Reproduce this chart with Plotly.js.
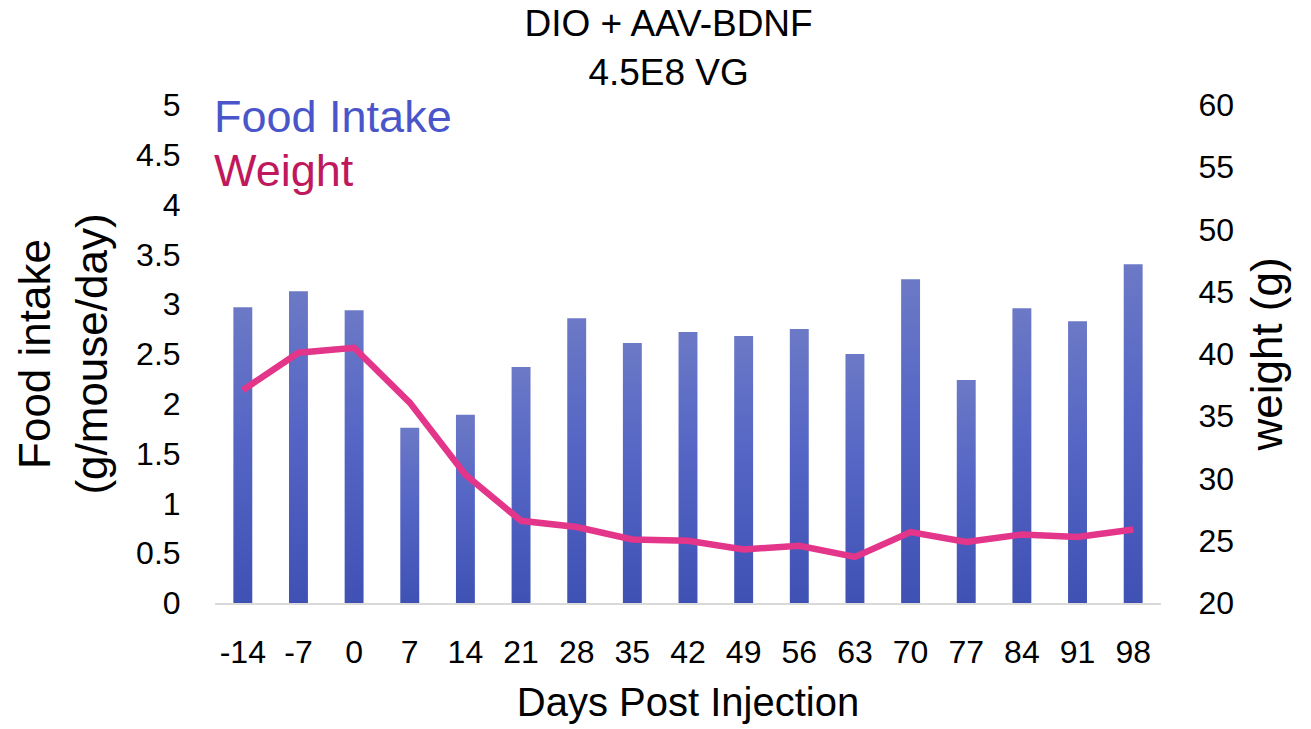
<!DOCTYPE html>
<html>
<head>
<meta charset="utf-8">
<script src="https://cdn.plot.ly/plotly-3.0.1.min.js"></script>
<style>html,body{margin:0;padding:0;background:#fff;}#chart{width:1311px;height:729px;}</style>
</head>
<body>
<div id="chart"></div>
<script>
const days = ["-14","-7","0","7","14","21","28","35","42","49","56","63","70","77","84","91","98"];
const foodIntake = [2.97,3.13,2.94,1.76,1.89,2.37,2.86,2.61,2.72,2.68,2.75,2.50,3.25,2.24,2.96,2.83,3.40];
const weight = [37.1,40.1,40.5,36.1,30.3,26.6,26.1,25.1,25.0,24.3,24.6,23.7,25.7,24.9,25.5,25.3,25.9];
const leftTicks = [0,0.5,1,1.5,2,2.5,3,3.5,4,4.5,5];
const rightTicks = [20,25,30,35,40,45,50,55,60];

const FONT = "Liberation Sans, Arial, sans-serif";

const traces = [
  {
    type: "bar", x: days, y: foodIntake, name: "Food Intake",
    marker: {color: "#5262c0"}, yaxis: "y", showlegend: false, hoverinfo: "x+y"
  },
  {
    type: "scatter", mode: "lines", x: days, y: weight, name: "Weight",
    line: {color: "#e3358a", width: 6.5}, yaxis: "y2", showlegend: false
  }
];

const layout = {
  width: 1311, height: 729,
  margin: {l: 215, r: 150, t: 105, b: 126},
  paper_bgcolor: "#ffffff", plot_bgcolor: "#ffffff",
  font: {family: FONT, color: "#000000", size: 32},
  bargap: 0.66,
  title: {
    text: "DIO + AAV-BDNF<br>4.5E8 VG",
    font: {family: FONT, size: 37, color: "#000000"},
    xref: "container", x: 0.51, xanchor: "center",
    yref: "container", y: 0.95, yanchor: "top"
  },
  xaxis: {
    type: "category",
    showgrid: false, zeroline: false,
    showline: true, linecolor: "#d9d9d9", linewidth: 2,
    ticks: "outside", ticklen: 0, ticklabelstandoff: 20,
    tickfont: {family: FONT, size: 32},
    automargin: true,
    title: {text: "Days Post Injection", font: {family: FONT, size: 40}, standoff: 19}
  },
  yaxis: {
    range: [0, 5], tickvals: leftTicks, ticktext: leftTicks.map(String),
    showgrid: false, zeroline: false, showline: false,
    ticks: "outside", ticklen: 0, ticklabelstandoff: 27,
    tickfont: {family: FONT, size: 32},
    automargin: true,
    title: {text: "Food intake<br>(g/mouse/day)", font: {family: FONT, size: 44}, standoff: 14}
  },
  yaxis2: {
    range: [20, 60], tickvals: rightTicks, ticktext: rightTicks.map(String),
    overlaying: "y", side: "right",
    showgrid: false, zeroline: false, showline: false,
    ticks: "outside", ticklen: 0, ticklabelstandoff: 30,
    tickfont: {family: FONT, size: 32},
    automargin: true,
    title: {text: "weight (g)", font: {family: FONT, size: 44}, standoff: 18}
  },
  annotations: [
    {text: "Food Intake", xref: "paper", yref: "paper", x: -0.003, y: 0.976,
     xanchor: "left", yanchor: "middle", showarrow: false,
     font: {family: FONT, size: 45, color: "#4a55c9"}},
    {text: "Weight", xref: "paper", yref: "paper", x: -0.003, y: 0.869,
     xanchor: "left", yanchor: "middle", showarrow: false,
     font: {family: FONT, size: 45, color: "#c0185c"}}
  ]
};

Plotly.newPlot("chart", traces, layout, {displayModeBar: false, staticPlot: true}).then(function(gd){
  const svg = gd.querySelector("svg.main-svg");
  const ns = "http://www.w3.org/2000/svg";
  let defs = svg.querySelector("defs");
  if (!defs) { defs = document.createElementNS(ns, "defs"); svg.insertBefore(defs, svg.firstChild); }
  const grad = document.createElementNS(ns, "linearGradient");
  grad.setAttribute("id", "barGrad");
  grad.setAttribute("x1", "0"); grad.setAttribute("y1", "0");
  grad.setAttribute("x2", "0"); grad.setAttribute("y2", "1");
  [["0%","#6c79c6"],["45%","#5465c5"],["100%","#3f51b3"]].forEach(function(s){
    const st = document.createElementNS(ns, "stop");
    st.setAttribute("offset", s[0]); st.setAttribute("stop-color", s[1]);
    grad.appendChild(st);
  });
  defs.appendChild(grad);
  gd.querySelectorAll(".barlayer .point path").forEach(function(p){
    p.style.fill = "url(#barGrad)";
  });
});
</script>
</body>
</html>
